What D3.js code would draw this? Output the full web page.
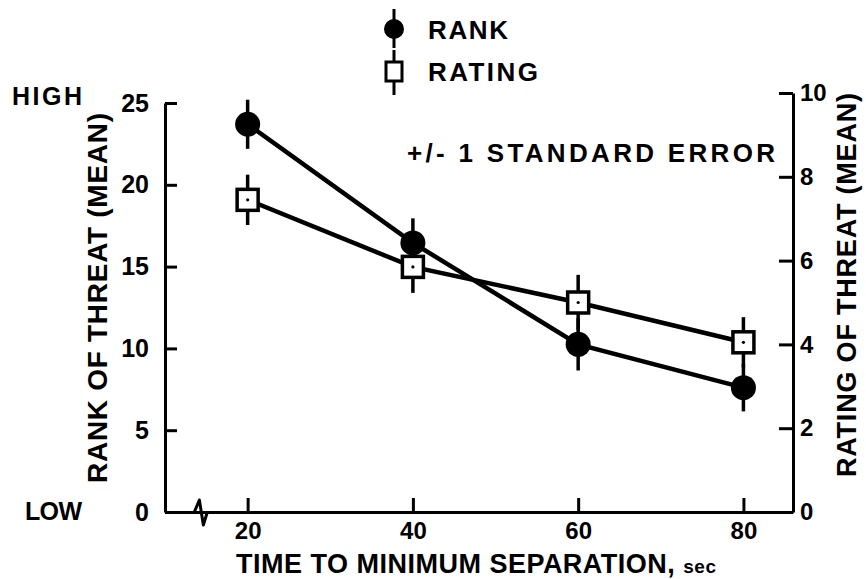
<!DOCTYPE html>
<html>
<head>
<meta charset="utf-8">
<script src="https://cdn.jsdelivr.net/npm/d3@7"></script>
<style>
  body { margin: 0; background: #fff; }
  text { font-family: "Liberation Sans", Arial, sans-serif; font-weight: bold; fill: #000; }
</style>
</head>
<body>
<div id="chart"></div>
<script>
// time to minimum separation (sec)
const times = [20, 40, 60, 80];
// rank of threat: mean and standard error (left axis)
const rankMean = [23.7, 16.45, 10.25, 7.6];
const rankSE = [1.5, 1.5, 1.6, 1.45];
// rating of threat: mean and standard error (right axis)
const ratingMean = [7.45, 5.85, 5.0, 4.05];
const ratingSE = [0.6, 0.62, 0.66, 0.6];
// tick labels
const xTicks = [20, 40, 60, 80];
const rankTicks = [0, 5, 10, 15, 20, 25];
const ratingTicks = [0, 2, 4, 6, 8, 10];

const width = 866, height = 579;

const svg = d3.select("#chart").append("svg")
    .attr("width", width)
    .attr("height", height);

// scales
const x = d3.scaleLinear().domain([10, 86]).range([165, 793]);
const yL = d3.scaleLinear().domain([0, 25]).range([512, 103]);
const yR = d3.scaleLinear().domain([0, 10]).range([512, 93]);

// axes (ticks point inward)
const styleAxis = size => g => {
    g.select(".domain").attr("stroke", "#000").attr("stroke-width", 3);
    g.selectAll(".tick line").attr("stroke", "#000").attr("stroke-width", 3);
    g.selectAll(".tick text")
        .style("font-family", "'Liberation Sans', Arial, sans-serif")
        .style("font-weight", "bold")
        .style("font-size", size + "px")
        .attr("fill", "#000");
};

svg.append("g")
    .attr("transform", "translate(165,0)")
    .call(d3.axisLeft(yL).tickValues(rankTicks).tickSize(-12).tickSizeOuter(0).tickPadding(16))
    .call(styleAxis(25));

svg.append("g")
    .attr("transform", "translate(793,0)")
    .call(d3.axisRight(yR).tickValues(ratingTicks).tickSize(-14).tickSizeOuter(0).tickPadding(7))
    .call(styleAxis(24));

svg.append("g")
    .attr("transform", "translate(0,512)")
    .call(d3.axisBottom(x).tickValues(xTicks).tickSize(-14).tickSizeOuter(0).tickPadding(10))
    .call(styleAxis(24));

// axis break mark
const breakAt = 14.4;
const bx = x(breakAt), by = yL(0);
svg.append("path")
    .attr("d", `M${bx - 7},${by} L${bx - 2},${by - 12} L${bx + 2},${by + 13} L${bx + 6},${by}`)
    .attr("fill", "none")
    .attr("stroke", "#000")
    .attr("stroke-width", 3)
    .attr("stroke-linejoin", "round");

// data lines
const rankData = times.map((t, i) => ({ t: t, m: rankMean[i], se: rankSE[i] }));
const ratingData = times.map((t, i) => ({ t: t, m: ratingMean[i], se: ratingSE[i] }));

svg.append("path")
    .datum(rankData)
    .attr("fill", "none")
    .attr("stroke", "#000")
    .attr("stroke-width", 4.5)
    .attr("d", d3.line().x(d => x(d.t)).y(d => yL(d.m)));

svg.append("path")
    .datum(ratingData)
    .attr("fill", "none")
    .attr("stroke", "#000")
    .attr("stroke-width", 4.5)
    .attr("d", d3.line().x(d => x(d.t)).y(d => yR(d.m)));

// error bars
svg.selectAll(".rank-err")
    .data(rankData)
    .enter().append("line")
    .attr("class", "rank-err")
    .attr("x1", d => x(d.t)).attr("x2", d => x(d.t))
    .attr("y1", d => yL(d.m - d.se)).attr("y2", d => yL(d.m + d.se))
    .attr("stroke", "#000")
    .attr("stroke-width", 3.5);

svg.selectAll(".rating-err")
    .data(ratingData)
    .enter().append("line")
    .attr("class", "rating-err")
    .attr("x1", d => x(d.t)).attr("x2", d => x(d.t))
    .attr("y1", d => yR(d.m - d.se)).attr("y2", d => yR(d.m + d.se))
    .attr("stroke", "#000")
    .attr("stroke-width", 3.5);

// markers
svg.selectAll(".rank-pt")
    .data(rankData)
    .enter().append("circle")
    .attr("class", "rank-pt")
    .attr("cx", d => x(d.t))
    .attr("cy", d => yL(d.m))
    .attr("r", 12.5)
    .attr("fill", "#000");

svg.selectAll(".rating-pt")
    .data(ratingData)
    .enter().append("rect")
    .attr("class", "rating-pt")
    .attr("x", d => x(d.t) - 10.5)
    .attr("y", d => yR(d.m) - 10.5)
    .attr("width", 21)
    .attr("height", 21)
    .attr("fill", "#fff")
    .attr("stroke", "#000")
    .attr("stroke-width", 3.5);

svg.selectAll(".rating-dot")
    .data(ratingData)
    .enter().append("circle")
    .attr("class", "rating-dot")
    .attr("cx", d => x(d.t))
    .attr("cy", d => yR(d.m))
    .attr("r", 1.6)
    .attr("fill", "#000");

// legend
const legend = svg.append("g");
legend.append("line")
    .attr("x1", 394).attr("x2", 394).attr("y1", 9).attr("y2", 48)
    .attr("stroke", "#000").attr("stroke-width", 3);
legend.append("circle")
    .attr("cx", 394).attr("cy", 29).attr("r", 10)
    .attr("fill", "#000");
legend.append("text")
    .attr("x", 428).attr("y", 30).attr("dy", "0.36em")
    .attr("textLength", 80).attr("lengthAdjust", "spacing")
    .style("font-size", "26px")
    .text("RANK");

legend.append("line")
    .attr("x1", 394).attr("x2", 394).attr("y1", 50).attr("y2", 95)
    .attr("stroke", "#000").attr("stroke-width", 3);
legend.append("rect")
    .attr("x", 386).attr("y", 62).attr("width", 16).attr("height", 19)
    .attr("fill", "#fff").attr("stroke", "#000").attr("stroke-width", 3);
legend.append("text")
    .attr("x", 428).attr("y", 72).attr("dy", "0.36em")
    .attr("textLength", 110).attr("lengthAdjust", "spacing")
    .style("font-size", "26px")
    .text("RATING");

// annotation
svg.append("text")
    .attr("x", 407).attr("y", 153).attr("dy", "0.36em")
    .attr("textLength", 368).attr("lengthAdjust", "spacing")
    .style("font-size", "26px")
    .text("+/- 1 STANDARD ERROR");

// HIGH / LOW
svg.append("text")
    .attr("x", 12).attr("y", 96).attr("dy", "0.36em")
    .attr("textLength", 70).attr("lengthAdjust", "spacing")
    .style("font-size", "25px")
    .text("HIGH");
svg.append("text")
    .attr("x", 25).attr("y", 511).attr("dy", "0.36em")
    .attr("textLength", 57).attr("lengthAdjust", "spacing")
    .style("font-size", "25px")
    .text("LOW");

// axis titles
svg.append("text")
    .attr("transform", "translate(97,298) rotate(-90)")
    .attr("text-anchor", "middle")
    .attr("dy", "0.36em")
    .attr("textLength", 370).attr("lengthAdjust", "spacing")
    .style("font-size", "28px")
    .text("RANK OF THREAT (MEAN)");

svg.append("text")
    .attr("transform", "translate(846,285) rotate(-90)")
    .attr("text-anchor", "middle")
    .attr("dy", "0.36em")
    .attr("textLength", 384).attr("lengthAdjust", "spacing")
    .style("font-size", "27px")
    .text("RATING OF THREAT (MEAN)");

const xTitle = svg.append("text")
    .attr("x", 476).attr("y", 563)
    .attr("text-anchor", "middle")
    .attr("dy", "0.36em")
    .attr("textLength", 480).attr("lengthAdjust", "spacing")
    .style("font-size", "27px");
xTitle.append("tspan").text("TIME TO MINIMUM SEPARATION, ");
xTitle.append("tspan").style("font-size", "19px").text("sec");
</script>
</body>
</html>
